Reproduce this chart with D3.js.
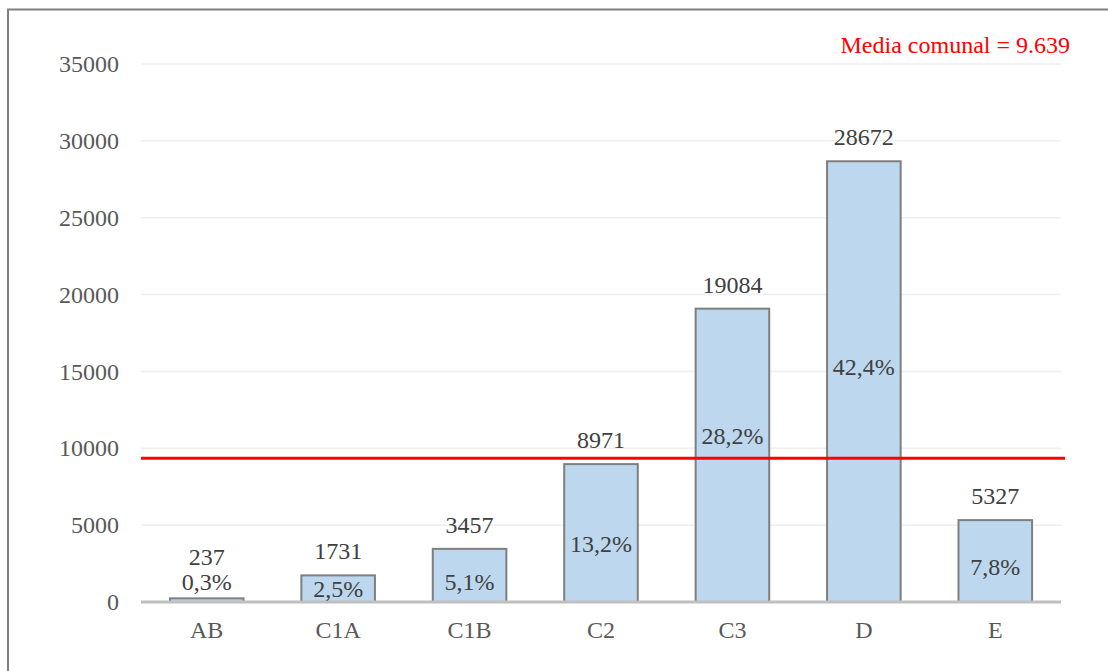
<!DOCTYPE html>
<html><head><meta charset="utf-8">
<script src="https://cdn.jsdelivr.net/npm/d3@7/dist/d3.min.js"></script>
<style>body{margin:0;background:#fff;}svg{display:block;} svg text{font-family:"Liberation Serif","Times New Roman","DejaVu Serif",serif !important;}</style>
</head><body>
<svg id="c" width="1108" height="671"></svg>
<script>
const categories = ["AB","C1A","C1B","C2","C3","D","E"];
const values = [237,1731,3457,8971,19084,28672,5327];
const percents = [0.3,2.5,5.1,13.2,28.2,42.4,7.8];
const yTicks = [0,5000,10000,15000,20000,25000,30000,35000];
const mediaLabel = "Media comunal = 9.639";
const mediaLineValue = 9350; // position of the red line

(function(){
const svg = d3.select("#c");
const fs = 24;
const mLeft = 141, mRight = 1061, mTop = 64, mBottom = 602;
// per-bar vertical nudges (px) of the percent labels, matching the reference layout
const pctNudge = [0,0,7,11,-19,-15,6];

// outer frame
svg.append("rect").attr("x",8).attr("y",9.5).attr("width",1120).attr("height",700)
  .attr("fill","none").attr("stroke","#808080").attr("stroke-width",2);

const x = d3.scaleBand().domain(categories).range([mLeft,mRight]).paddingInner(0.44).paddingOuter(0.22);
const y = d3.scaleLinear().domain([0,35000]).range([mBottom,mTop]);

// gridlines
svg.append("g").selectAll("line").data(yTicks.filter(d=>d>0)).join("line")
  .attr("x1",mLeft).attr("x2",mRight).attr("y1",d=>y(d)).attr("y2",d=>y(d))
  .attr("stroke","#efefef").attr("stroke-width",1.5);

// y axis labels
const ya = svg.append("g").attr("transform",`translate(${mLeft},0)`)
  .call(d3.axisLeft(y).tickValues(yTicks).tickSize(0).tickPadding(22).tickFormat(d3.format("d")));
ya.select(".domain").remove();
ya.selectAll("text").attr("font-size",fs).attr("fill","#595959");

// bars
svg.append("g").selectAll("rect").data(values).join("rect")
  .attr("x",(d,i)=>x(categories[i])).attr("width",x.bandwidth())
  .attr("y",d=>y(d)).attr("height",d=>y(0)-y(d))
  .attr("fill","#bdd7ee").attr("stroke","#7f7f7f").attr("stroke-width",2);

// baseline
svg.append("line").attr("x1",mLeft).attr("x2",mRight).attr("y1",y(0)).attr("y2",y(0))
  .attr("stroke","#bfbfbf").attr("stroke-width",3);

// x axis labels
const xa = svg.append("g").attr("transform",`translate(0,${y(0)})`)
  .call(d3.axisBottom(x).tickSize(0).tickPadding(19));
xa.select(".domain").remove();
xa.selectAll("text").attr("font-size",fs).attr("fill","#595959");

// value labels
svg.append("g").selectAll("text").data(values).join("text")
  .attr("x",(d,i)=>x(categories[i])+x.bandwidth()/2)
  .attr("y",(d,i)=> i===0 ? y(d)-33 : y(d)-16)
  .attr("text-anchor","middle").attr("font-size",fs).attr("fill","#404040")
  .text(d=>d);

// percent labels
const fmtPct = p => p.toFixed(1).replace(".",",")+"%";
svg.append("g").selectAll("text").data(percents).join("text")
  .attr("x",(d,i)=>x(categories[i])+x.bandwidth()/2)
  .attr("y",(d,i)=> (i===0 ? y(values[i])-8 : y(values[i]/2)+8) + pctNudge[i])
  .attr("text-anchor","middle").attr("font-size",fs).attr("fill","#404040")
  .text(fmtPct);

// media line
svg.append("line").attr("x1",mLeft).attr("x2",mRight+4).attr("y1",y(mediaLineValue)).attr("y2",y(mediaLineValue))
  .attr("stroke","#ff0000").attr("stroke-width",3);
svg.append("text").attr("x",1070).attr("y",53).attr("text-anchor","end")
  .attr("font-size",fs).attr("fill","#ff0000").text(mediaLabel);
})();
</script>
</body></html>
